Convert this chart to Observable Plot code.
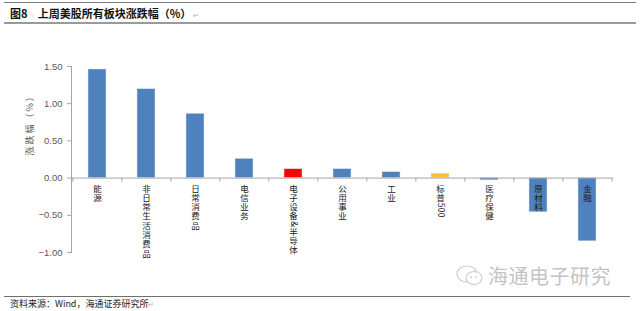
<!DOCTYPE html>
<html><head><meta charset="utf-8">
<script src="https://cdn.jsdelivr.net/npm/d3@7"></script>
<script src="https://cdn.jsdelivr.net/npm/@observablehq/plot@0.6"></script>
<style>
body{margin:0;background:#fff;font-family:"Noto Sans CJK SC",sans-serif;}
#wrap{position:relative;width:640px;height:311px;overflow:hidden;background:#fff;}
#chart{position:absolute;left:0;top:0;}
.abs{position:absolute;white-space:nowrap;}
#topline{left:4px;right:4px;top:2px;height:1px;background:#7f7f7f;}
#titleline{left:4px;right:4px;top:22px;height:2px;background:#9a9a9a;}
#title{left:10px;top:5px;font-size:11px;font-weight:bold;color:#111;line-height:17px;}
#footline{left:4px;right:10px;top:296px;height:1px;background:#6f6f6f;}
#foot{left:10px;top:298px;font-size:9px;color:#222;line-height:12px;}
#wm{left:488px;top:263px;font-size:20px;color:#c4c4c4;line-height:26px;letter-spacing:0.5px;}
.pm{color:#aaa;font-size:7px;font-weight:normal;}
</style></head><body>
<div id="wrap">
  <div id="chart"></div>
  <div class="abs" id="topline"></div>
  <div class="abs" id="title"></div>
  <div class="abs" id="titleline"></div>
  <svg class="abs" style="left:455px;top:264px" width="32" height="24" viewBox="0 0 32 24">
    <ellipse cx="12" cy="10" rx="10" ry="8" fill="none" stroke="#cfcfcf" stroke-width="1.2"/>
    <ellipse cx="19" cy="14" rx="8" ry="6.5" fill="#fff" stroke="#cfcfcf" stroke-width="1.2"/>
    <circle cx="16" cy="13" r="1" fill="#cfcfcf"/><circle cx="21" cy="13" r="1" fill="#cfcfcf"/>
  </svg>
  <div class="abs" id="wm"></div>
  <div class="abs" id="footline"></div>
  <div class="abs" id="foot"></div>
</div>
<script>
const titleText = "上周美股所有板块涨跌幅（%）";
const figNo = "图8";
const yLabel = "涨跌幅（%）";
const sourceText = "资料来源：Wind，海通证券研究所";
const watermark = "海通电子研究";

const categories = ["能源","非日常生活消费品","日常消费品","电信业务","电子设备&半导体","公用事业","工业","标普500","医疗保健","原材料","金融"];
const values = [1.46, 1.195, 0.865, 0.26, 0.12, 0.12, 0.08, 0.06, -0.03, -0.46, -0.85];
const kinds = ["sector","sector","sector","sector","focus","sector","sector","index","sector","sector","sector"];
const yTicks = [-1, -0.5, 0, 0.5, 1, 1.5];

document.getElementById("title").innerHTML = figNo + "<span class='pm'> ◦ </span>" + titleText + "<span class='pm'> ↵</span>";
document.getElementById("foot").innerHTML = sourceText + "<span class='pm'>↵</span>";
document.getElementById("wm").textContent = watermark;

const data = categories.map((c, i) => ({cat: c, value: values[i], kind: kinds[i]}));

const W = 640, H = 311, ml = 71, mr = 27, mt = 66, mb = 59;
const step = (W - ml - mr) / categories.length;
const axisGray = "#a6a6a6";
const labelSize = 8.5;

const chart = Plot.plot({
  width: W, height: H,
  marginTop: mt, marginBottom: mb, marginLeft: ml, marginRight: mr,
  style: {fontFamily: "'Noto Sans CJK SC', sans-serif", background: "transparent", overflow: "visible"},
  x: {domain: categories, paddingInner: 0.63, paddingOuter: 0.315, axis: null},
  y: {domain: [-1, 1.5], axis: null},
  color: {domain: ["sector","focus","index"], range: ["#4F81BD","#FF0000","#F7C331"]},
  marks: [
    Plot.frame({anchor: "left", stroke: axisGray}),
    Plot.axisY({ticks: yTicks, tickFormat: d3.format(".2f"), tickSize: 4, tickPadding: 5,
      fontSize: 9.5, stroke: axisGray, fill: "#595959", label: null, fontFamily: "Liberation Sans, Arial, sans-serif"}),
    Plot.barY(data, {x: "cat", y: "value", fill: "kind", stroke: "#dbe6f3", strokeWidth: 0.5}),
    Plot.ruleY([0], {stroke: axisGray}),
    Plot.ruleX(categories, {x: d => d, y1: 0, y2: 0, insetBottom: -4, dx: -step / 2, stroke: axisGray}),
    Plot.ruleX(categories.slice(-1), {x: d => d, y1: 0, y2: 0, insetBottom: -4, dx: step / 2, stroke: axisGray}),
    Plot.text(data, {x: "cat", y: 0, text: "cat", fontSize: labelSize, fill: "#1a1a1a"}),
    Plot.text([yLabel], {frameAnchor: "left", dx: -41, dy: -4, rotate: -90, fontSize: 9, fill: "#595959"})
  ]
});
document.getElementById("chart").appendChild(chart);

// Stack each category label vertically (one glyph per element):
// CJK characters upright, Latin/digits turned 90° clockwise.
const NS = "http://www.w3.org/2000/svg";
const adv = 9.3;
chart.querySelectorAll("text").forEach(t => {
  const label = t.textContent;
  if (label === yLabel) { t.style.letterSpacing = "2px"; return; }
  if (!categories.includes(label)) return;
  let x = 0, y = 0;
  const tl = t.transform && t.transform.baseVal.consolidate();
  if (tl) { x = tl.matrix.e; y = tl.matrix.f; }
  else { x = +(t.getAttribute("x") || 0); y = +(t.getAttribute("y") || 0); }
  const parent = t.parentNode;
  let cy = y + 6;
  for (const ch of label) {
    const e = document.createElementNS(NS, "text");
    e.textContent = ch;
    e.setAttribute("text-anchor", "middle");
    parent.appendChild(e);
    if (/[\x00-\x7f]/.test(ch)) {
      const w = e.getComputedTextLength();
      e.setAttribute("transform", `translate(${x},${cy + w / 2}) rotate(90)`);
      e.setAttribute("dy", "0.35em");
      cy += w + 0.3;
    } else {
      e.setAttribute("x", x);
      e.setAttribute("y", cy + labelSize * 0.88);
      cy += adv;
    }
  }
  t.remove();
});
</script>
</body></html>
